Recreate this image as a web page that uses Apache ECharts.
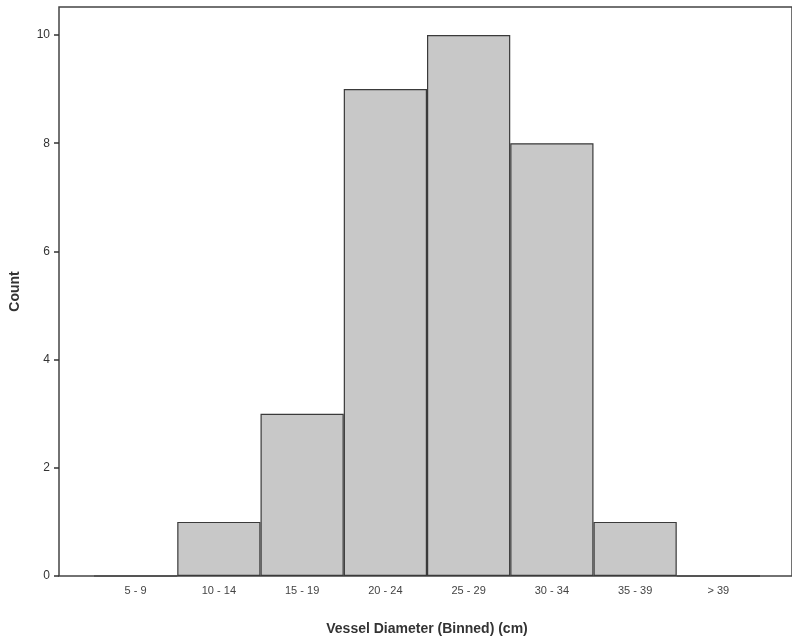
<!DOCTYPE html>
<html>
<head>
<meta charset="utf-8">
<script src="https://cdn.jsdelivr.net/npm/echarts@6/dist/echarts.min.js"></script>
<style>
  html, body { margin: 0; padding: 0; background: #fff; }
  #chart { width: 792px; height: 641px; }
</style>
</head>
<body>
<div id="chart"></div>
<script>
// bins and counts
const categories = ['5 - 9', '10 - 14', '15 - 19', '20 - 24', '25 - 29', '30 - 34', '35 - 39', '> 39'];
const counts = [0, 1, 3, 9, 10, 8, 1, 0];
const yTicks = { min: 0, max: 10, interval: 2 };

const chart = echarts.init(document.getElementById('chart'));
const font = 'Liberation Sans, Arial, sans-serif';

const option = {
  animation: false,
  textStyle: { fontFamily: font },
  grid: [
    // frame (left, top and bottom lines)
    { left: 59, right: -3, top: 7, bottom: 65, show: true, borderColor: '#444', borderWidth: 1.5, containLabel: false },
    // plotting area for the bars
    { left: 94, right: 32, top: 35, bottom: 65, containLabel: false }
  ],
  xAxis: [
    { gridIndex: 0, type: 'value', show: false },
    {
      gridIndex: 1,
      type: 'category',
      data: categories,
      axisLine: { show: false },
      axisTick: { alignWithLabel: true, length: 6, lineStyle: { color: '#333', width: 1.5 } },
      axisLabel: { color: '#444', fontSize: 11, margin: 9, interval: 0 },
      name: 'Vessel Diameter (Binned) (cm)',
      nameLocation: 'middle',
      nameGap: 46,
      nameTextStyle: { color: '#333', fontSize: 14, fontWeight: 'bold', fontFamily: font }
    }
  ],
  yAxis: [
    {
      gridIndex: 0, type: 'value', min: 0, max: 1,
      axisLine: { show: false }, axisTick: { show: false }, axisLabel: { show: false }, splitLine: { show: false },
      name: 'Count',
      nameLocation: 'middle',
      nameGap: 37,
      nameTextStyle: { color: '#333', fontSize: 14, fontWeight: 'bold', fontFamily: font }
    },
    {
      gridIndex: 1,
      type: 'value',
      min: yTicks.min,
      max: yTicks.max,
      interval: yTicks.interval,
      offset: 35,
      axisLine: { show: false },
      axisTick: { show: true, length: 5, lineStyle: { color: '#333', width: 1.5 } },
      axisLabel: { color: '#333', fontSize: 12, margin: 9 },
      splitLine: { show: false }
    }
  ],
  series: [{
    type: 'bar',
    xAxisIndex: 1,
    yAxisIndex: 1,
    data: counts,
    barCategoryGap: '0%',
    itemStyle: { color: '#c8c8c8', borderColor: '#3a3a3a', borderWidth: 1.2 }
  }]
};

chart.setOption(option);
</script>
</body>
</html>
